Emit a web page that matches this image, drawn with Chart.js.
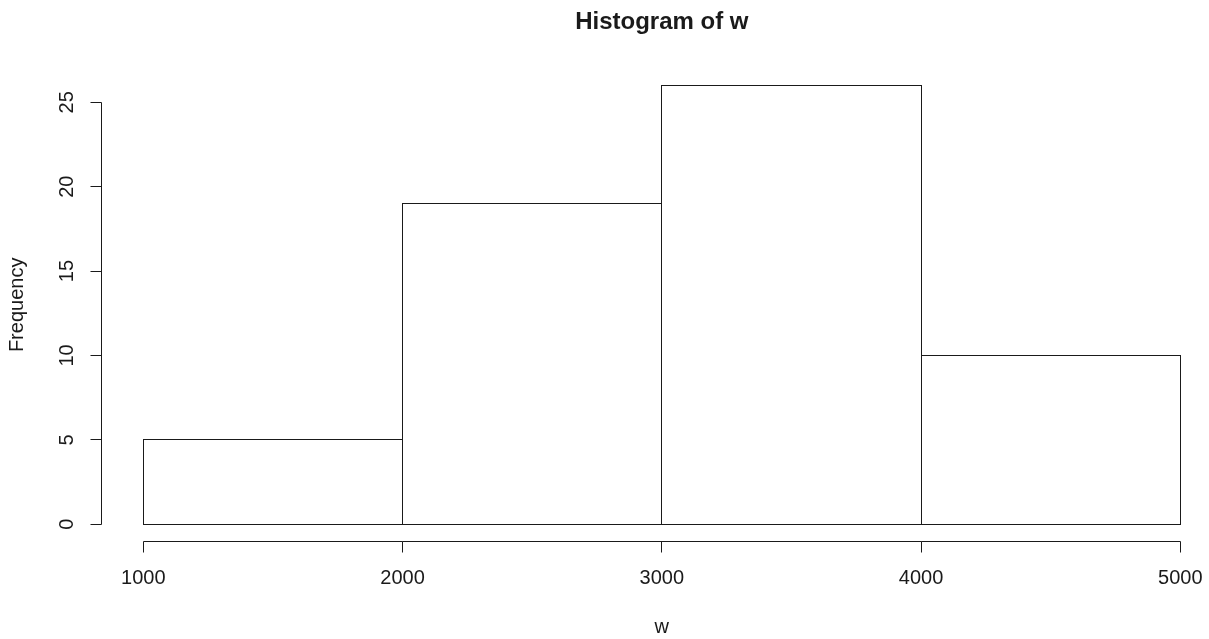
<!DOCTYPE html>
<html>
<head>
<meta charset="utf-8">
<title>Histogram of w</title>
<script src="https://cdn.jsdelivr.net/npm/chart.js@4/dist/chart.umd.min.js"></script>
<style>
  html, body { margin: 0; padding: 0; background: #fff; }
  canvas { display: block; }
</style>
</head>
<body>
<canvas id="hist" width="1209" height="639"></canvas>
<script>
const binMids = [1500, 2500, 3500, 4500];
const counts = [5, 19, 26, 10];
const xTicks = [1000, 2000, 3000, 4000, 5000];
const yTicks = [0, 5, 10, 15, 20, 25];

const ink = "#1a1a1a";
const font = "Liberation Sans, Arial, sans-serif";

function snap(v) {
  return Math.round(v - 0.5) + 0.5;
}

// R style: boxes, detached axes, rotated y labels
const rAxes = {
  id: "rAxes",
  afterDatasetsDraw(chart) {
    const ctx = chart.ctx;
    const xs = chart.scales.x;
    const ys = chart.scales.y;
    const meta = chart.getDatasetMeta(0);

    ctx.save();
    ctx.strokeStyle = ink;
    ctx.lineWidth = 1;

    meta.data.forEach(bar => {
      const l = snap(bar.x - bar.width / 2);
      const r = snap(bar.x + bar.width / 2);
      const t = snap(bar.y);
      const b = snap(bar.base);
      ctx.strokeRect(l, t, r - l, b - t);
    });

    // axes sit 4% outside the data range, like par(xaxs = "r")
    const xPad = (xs.max - xs.min) * 0.04;
    const yPad = (ys.max - ys.min) * 0.04;
    const axisY = snap(ys.getPixelForValue(ys.min - yPad));
    const axisX = snap(xs.getPixelForValue(xs.min - xPad));
    const tick = 11;

    ctx.beginPath();
    ctx.moveTo(snap(xs.getPixelForValue(xTicks[0])), axisY);
    ctx.lineTo(snap(xs.getPixelForValue(xTicks[xTicks.length - 1])), axisY);
    xTicks.forEach(v => {
      const px = snap(xs.getPixelForValue(v));
      ctx.moveTo(px, axisY);
      ctx.lineTo(px, axisY + tick);
    });
    ctx.moveTo(axisX, snap(ys.getPixelForValue(yTicks[0])));
    ctx.lineTo(axisX, snap(ys.getPixelForValue(yTicks[yTicks.length - 1])));
    yTicks.forEach(v => {
      const py = snap(ys.getPixelForValue(v));
      ctx.moveTo(axisX, py);
      ctx.lineTo(axisX - tick, py);
    });
    ctx.stroke();

    ctx.fillStyle = ink;
    ctx.font = `20px ${font}`;
    ctx.textAlign = "center";
    ctx.textBaseline = "alphabetic";
    xTicks.forEach(v => {
      ctx.fillText(String(v), xs.getPixelForValue(v), axisY + 42);
    });

    yTicks.forEach(v => {
      ctx.save();
      ctx.translate(axisX - 29, ys.getPixelForValue(v));
      ctx.rotate(-Math.PI / 2);
      ctx.fillText(String(v), 0, 0);
      ctx.restore();
    });

    const midX = (xs.left + xs.right) / 2;
    const midY = (ys.getPixelForValue(ys.min - yPad) + ys.getPixelForValue(ys.max + yPad)) / 2;

    ctx.fillText("w", midX, 633);

    ctx.save();
    ctx.translate(23, midY);
    ctx.rotate(-Math.PI / 2);
    ctx.fillText("Frequency", 0, 0);
    ctx.restore();

    ctx.font = `bold 24px ${font}`;
    ctx.fillText("Histogram of w", midX, 29);

    ctx.restore();
  }
};

new Chart(document.getElementById("hist"), {
  type: "bar",
  data: {
    datasets: [{
      data: binMids.map((m, i) => ({ x: m, y: counts[i] })),
      backgroundColor: "rgba(255, 255, 255, 0)",
      borderWidth: 0,
      barPercentage: 1,
      categoryPercentage: 1
    }]
  },
  options: {
    responsive: false,
    animation: false,
    devicePixelRatio: 1,
    layout: {
      padding: { left: 143.3, right: 28.7, top: 85.4, bottom: 114.7 }
    },
    plugins: {
      legend: { display: false },
      tooltip: { enabled: false },
      title: { display: false }
    },
    scales: {
      x: {
        type: "linear",
        min: 1000,
        max: 5000,
        offset: false,
        display: false,
        ticks: { stepSize: 1000 }
      },
      y: {
        min: 0,
        max: 26,
        display: false
      }
    }
  },
  plugins: [rAxes]
});
</script>
</body>
</html>
